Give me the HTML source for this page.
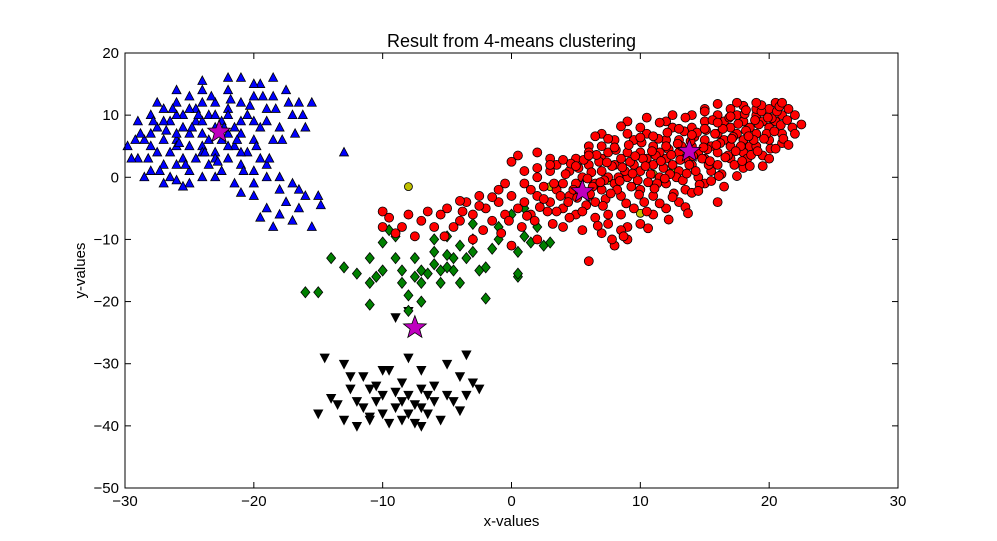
<!DOCTYPE html>
<html><head><meta charset="utf-8"><style>
html,body{margin:0;padding:0;background:#fff;}
svg{display:block;font-family:"Liberation Sans",sans-serif;}
</style></head><body>
<svg id="chart" width="997" height="541"></svg>
<script>
const xTicks=[-30,-20,-10,0,10,20,30];
const yTicks=[-50,-40,-30,-20,-10,0,10,20];
const redPts=[[-10,-5.5],[-10,-8],[-9,-9],[-8,-6],[-7.5,-9.5],[-7,-7],[-6,-8],[-5.5,-6],[-5,-5],[-4.5,-8],[-4,-7],[-3.5,-4],[-3,-6],[-2.5,-3],[-2,-5],[-1.5,-7],[-1,-4],[-1,-2],[-0.5,-6],[0,-3],[0,2.5],[0.5,-5],[1,-1],[1,-4],[1.5,-6],[2,0],[2,-3],[2.5,-1.5],[3,-4],[3,1],[3.5,-2],[3.5,2],[4,-1],[4,-5],[4.5,1],[4.5,-3],[5,3],[5,-1],[5,-6],[5.5,0],[6,-3],[6,2],[6,5],[6.5,-1],[6.5,-4],[7,1],[7,3],[7,-2],[7.5,0],[7.5,4],[7.5,-6],[8,2],[8,-1],[8,6],[8.5,3],[8.5,-3],[9,0],[9,4],[9,-8],[9.5,2],[9.5,6],[10,1],[10,4],[10,-2],[10.5,3],[10.5,7],[11,2],[11,5],[11,-3],[11.5,0],[11.5,4],[12,3],[12,6],[12,-1],[12.5,2],[12.5,8],[13,4],[13,1],[13,6],[13.5,-2],[13.5,3],[14,5],[14,2],[14,8],[14.5,0],[14.5,4],[15,6],[15,3],[15,9],[15.5,1],[15.5,5],[16,7],[16,4],[16,2],[16.5,6],[16.5,9],[17,5],[17,8],[17,3],[17.5,7],[17.5,10],[18,6],[18,9],[18,4],[18.5,8],[18.5,5],[19,7],[19,10],[19,5],[19.5,9],[20,8],[20,11],[20,6],[20.5,9],[21,10],[21,7],[22.5,8.5],[21.5,11],[20.5,12],[19,11],[17,11],[14,10],[12,9],[9,9],[7,7],[3,3],[2,4],[0.5,3.5],[-3,-10],[6,-13.5],[8,-11],[9,-10],[11,-6],[13,-4],[16,-4],[4,-8],[2,-10],[0,-11],
[4.2,0.5],[4.8,-2],[5.2,1.5],[5.8,-4.5],[6.2,0.8],[6.8,2.5],[7.2,-0.5],[7.8,1.8],[8.2,-2],[8.8,1],[9.2,2.5],[9.8,-0.5],[10.2,3],[10.8,0.5],[11.2,3.5],[11.8,1.5],[12.2,4.5],[12.8,0],[13.2,5],[13.8,2],[14.2,6.5],[14.8,3],[15.2,4.5],[15.8,7],[16.2,5.5],[16.8,3.5],[17.2,6.5],[17.8,5],[18.2,7.5],[18.8,6],[19.2,8.5],[19.8,7],[20.2,9.5],[3.8,-3],[5.3,-2.5],[6.3,-1.5],[7.3,-3.5],[8.3,0],[9.3,-1.5],[10.3,-4],[11.3,-1],[12.3,0.5],[13.3,-0.5],[14.3,1],[15.3,2],[16.3,0.5],[17.3,2],[18.3,3],[2.8,-5.5],[1.8,-7],[0.8,-8],[-0.8,-9],[-2.2,-8.5],[-3.8,-5.5],[-5.2,-9.5],[3.2,-7.5],[5.5,-8.5],[7,-9],[8.5,-6],[10,-7.5],[12,-5],[14,-2.5],[15,-1],[18,1.5],[19.5,3.5],[21,5.5],[20,3],[12.5,10],[10,8],[6,4],[15,11],[16,10],[18,11.5],
[4.4,-4],[4.6,2.2],[5.1,-3.3],[5.6,2.8],[5.9,-0.2],[6.1,-2.7],[6.6,3.6],[6.9,-0.8],[7.1,-4.6],[7.4,2.4],[7.7,-2.6],[8.1,4.4],[8.4,-0.6],[8.6,1.6],[8.9,-4.2],[9.1,5.2],[9.4,0.6],[9.6,3.4],[9.9,-2.8],[10.1,5.6],[10.4,1.8],[10.6,-0.8],[10.9,4.2],[11.1,-1.8],[11.4,6.2],[11.6,2.6],[11.9,-0.2],[12.1,7.2],[12.4,3.6],[12.6,-2.6],[12.9,5.4],[13.1,2.8],[13.4,7.4],[13.6,0.6],[13.9,5.8],[14.1,3.4],[14.4,7.2],[14.6,-1.2],[14.9,4.8],[15.1,7.6],[15.4,2.6],[15.6,9.2],[15.9,5.2],[16.1,0.2],[16.4,7.8],[16.6,3.2],[16.9,9.6],[17.1,6.2],[17.4,4.2],[17.6,8.6],[17.9,2.6],[18.1,10.2],[18.4,6.6],[18.6,3.6],[18.9,9.2],[19.1,4.2],[19.4,10.6],[19.6,6.2],[19.9,9.6],[20.1,4.6],[20.4,7.4],[20.6,10.6],[20.9,8.4],[21.1,6.2],[21.4,9.2],[21.8,8],[20.8,11.4],[19.4,11.6],[18.2,10.8],[17,9.8],[16,8.8],[15,7.8],[14,6.8],[13,7.8],[12,5],[11,6.6],[10,6.4],[9,7],[8,4.8],[7,5],[6,3.5],[5,1.8],[4,2.8],[3,2],[2,1.5],[1,1],[1.5,-2],[2.5,-3.5],[3.5,-5.5],[4.5,-6.5],[5.5,-5.5],[6.5,-6.5],[7.5,-7.5],[8.5,-8.5],[9.5,-5],[10.5,-5.5],[11.5,-4.2],[12.5,-3.2],[13.5,-4.8],[14.5,-2.2],[15.5,-0.6],[16.5,-1.5],[17.5,0.2],[18.5,1.8],[19.5,1.8],[20.5,4.6],[21.5,5.2],[22,7],[22,10],[21,12],[19,12],[17.5,12],[16,11.8],[15,10.6],[13.5,9.6],[11.5,8.8],[10.5,9.6],[8.5,8.2],[7.5,6.2],[6.5,6.6],[-0.5,-1],[-1.5,-3.2],[-2.5,-4.6],[-4,-3.8],[-6.5,-5.5],[-8.5,-8],[-9.5,-6.5],[-0.2,-7],[1.2,-6.2],[2.2,-4.8],[3.3,-1],[6.7,-7.8],[8.7,-9.5],[7.8,-10],[10.6,-8.2],[12.2,-6.8],[13.7,-5.8]];
const bluePts=[[-29,3],[-29,9],[-28.5,6],[-28,1],[-28,10],[-27.5,4],[-27.5,8],[-27,2],[-27,6],[-27,11],[-26.5,0],[-26.5,4],[-26.5,9],[-26,2],[-26,6],[-26,12],[-25.5,3],[-25.5,8],[-25.5,10],[-25,1],[-25,5],[-25,7],[-25,13],[-24.5,3],[-24.5,9],[-24.5,11],[-24,0],[-24,5],[-24,7],[-24,14],[-23.5,2],[-23.5,6],[-23.5,10],[-23,4],[-23,8],[-23,12],[-22.5,1],[-22.5,6],[-22.5,9],[-22,3],[-22,11],[-22,14],[-21.5,5],[-21.5,8],[-21.5,-1],[-21,2],[-21,7],[-21,12],[-21,16],[-20.5,4],[-20.5,10],[-20,1],[-20,6],[-20,13],[-20,-3],[-19.5,8],[-19.5,15],[-19.5,3],[-19,11],[-19,-5],[-19,0],[-18.5,16],[-18.5,6],[-18.5,13],[-18,-2],[-18,8],[-18,-6],[-17.5,14],[-17.5,-4],[-17,10],[-17,-1],[-16.5,12],[-16.5,-5],[-16,8],[-15.5,12],[-15,-3],[-13,4],[-18.5,-8],[-28,7],[-27,9],[-26,10],[-25,11],[-24,12],[-23,10],[-22,10],[-21,9],[-20,9],[-19,9],[-26,7],[-24,9],[-22,7],[-23,3],[-25,-1],[-27,-1],[-20,-1],[-19,2],[-22,5],[-21,4],[-24,4],[-26,5],[-28,5],[-29.5,3],
[-28.8,7],[-28.2,3],[-27.8,9],[-27.3,1],[-26.8,7.5],[-26.3,11],[-25.8,5.5],[-25.3,2],[-24.8,8],[-24.3,10],[-23.8,4],[-23.3,13],[-22.8,2.5],[-22.3,8],[-21.8,12.5],[-21.3,6],[-20.8,1],[-20.3,11.5],[-19.8,5],[-19.3,13],[-18.8,3],[-18.3,11],[-17.8,6],[-17.3,12],[-16.8,7],[-16.2,10],[-27.5,12],[-26,14],[-24,15.5],[-22,16],[-20,15],[-23,0],[-26,-0.5],[-28.5,0],[-25.5,-1.5],[-21,-2.5],[-18,0],[-16.5,-2],[-17,-7],[-19.5,-6.5],[-15.5,-8],[-16,-3],[-14.8,-4.5],[-29.2,6],[-29.8,5]];
const greenPts=[[-16,-18.5],[-15,-18.5],[-14,-13],[-13,-14.5],[-12,-15.5],[-11,-13],[-11,-17],[-11,-20.5],[-10.5,-16],[-10,-10.5],[-10,-15],[-9.5,-8.5],[-9,-9.5],[-9,-13],[-8.5,-17],[-8.5,-15],[-8,-19],[-8,-21.5],[-7.5,-13],[-7.5,-16],[-7,-15],[-7,-20],[-6.5,-15.5],[-6,-12],[-6,-14],[-5.5,-17],[-5.5,-15],[-5,-12.5],[-5,-9.5],[-4.5,-13],[-4.5,-15],[-4,-11],[-4,-17],[-3.5,-13],[-3,-10],[-3,-12],[-2.5,-15],[-2,-19.5],[-2,-14.5],[-1.5,-11.5],[-1,-10],[-1,-8],[0,-6],[0.5,-12],[1,-5],[1,-9.5],[1.5,-10.5],[2,-8],[2.5,-11],[3,-10.5],[0.5,-16],[0.5,-15.5],[-5,-14.5],[-3,-7.5],[-7,-17],[-6,-10]];
const blackPts=[[-15,-38],[-14,-35.5],[-13.5,-36.5],[-13,-39],[-12.5,-34],[-12,-40],[-11.5,-32],[-11.5,-37],[-11,-34],[-11,-38.5],[-10.5,-36],[-10.5,-33.5],[-10,-38],[-10,-35],[-9.5,-39.5],[-9.5,-31],[-9,-37],[-9,-34.5],[-8.5,-39],[-8.5,-36],[-8.5,-33],[-8,-38],[-8,-35],[-8,-29],[-7.5,-36.5],[-7.5,-39.5],[-7,-34],[-7,-37],[-7,-31],[-6.5,-35],[-6.5,-38],[-6,-33.5],[-6,-36],[-5.5,-39],[-5,-35],[-5,-30],[-4.5,-36],[-4,-32],[-4,-37.5],[-3.5,-28.5],[-3,-33],[-2.5,-34],[-12.5,-32],[-13,-30],[-14.5,-29],[-8,-21.5],[-9,-22.5],[-10,-31],[-12,-36],[-7,-40],[-11,-39],[-3.5,-35]];
const yellowPts=[[-8,-1.5],[10,-5.8],[11,0.5],[12.5,1],[5,-1],[7.5,-0.5],[3,-1.5]];
const centroids=[[-22.7,7.3],[5.5,-2.3],[13.8,4.2],[-7.5,-24.2]];

const L=125,R=898,T=53,B=488;
const sx=v=>L+(v+30)/60*(R-L);
const sy=v=>B-(v+50)/70*(B-T);
const svg=document.getElementById('chart');
const NS='http://www.w3.org/2000/svg';
function mk(tag,attrs,parent){const e=document.createElementNS(NS,tag);for(const k in attrs)e.setAttribute(k,attrs[k]);(parent||svg).appendChild(e);return e;}

const plot=mk('g',{});



function drawSeries(pts,name,fn){
  const g=mk('g',{},plot);
  
  
  pts.forEach(p=>{const e=fn(sx(p[0]),sy(p[1]),g);
    
    });
}
const st={stroke:'#000','stroke-width':0.8};
drawSeries(bluePts,'blue-triangle',(x,y,g)=>mk('polygon',Object.assign({points:`${x},${y-5} ${x-4.5},${y+3.5} ${x+4.5},${y+3.5}`,fill:'#0000ff'},st),g));
drawSeries(blackPts,'black-triangle',(x,y,g)=>mk('polygon',Object.assign({points:`${x},${y+5} ${x-4.5},${y-3.5} ${x+4.5},${y-3.5}`,fill:'#000'},st),g));
drawSeries(greenPts,'green-diamond',(x,y,g)=>mk('polygon',Object.assign({points:`${x},${y-5.5} ${x+4.5},${y} ${x},${y+5.5} ${x-4.5},${y}`,fill:'#008000'},st),g));
drawSeries(yellowPts,'yellow-circle',(x,y,g)=>mk('circle',Object.assign({cx:x,cy:y,r:4,fill:'#bfbf00'},st),g));
drawSeries(redPts,'red-circle',(x,y,g)=>mk('circle',Object.assign({cx:x,cy:y,r:4.5,fill:'#ff0000'},st),g));
function star(x,y,r){let s='';for(let i=0;i<10;i++){const a=-Math.PI/2+i*Math.PI/5;const rr=i%2?r*0.42:r;s+=`${x+rr*Math.cos(a)},${y+rr*Math.sin(a)} `;}return s;}
drawSeries(centroids,'centroid-star',(x,y,g)=>mk('polygon',Object.assign({points:star(x,y,12),fill:'#bf00bf'},st),g));

const frame=mk('rect',{x:L,y:T,width:R-L,height:B-T,fill:'none',stroke:'#000','stroke-width':1});



const xa=mk('g',{});


xTicks.forEach(v=>{const x=sx(v);
  mk('line',{x1:x,x2:x,y1:B,y2:B-6,stroke:'#000'},xa);
  mk('line',{x1:x,x2:x,y1:T,y2:T+6,stroke:'#000'},xa);
  const t=mk('text',{x:x,y:B+18,'text-anchor':'middle','font-size':15},xa);
  t.textContent=v<0?'\u2212'+(-v):String(v);
  
  });
const ya=mk('g',{});


yTicks.forEach(v=>{const y=sy(v);
  mk('line',{x1:L,x2:L+6,y1:y,y2:y,stroke:'#000'},ya);
  mk('line',{x1:R,x2:R-6,y1:y,y2:y,stroke:'#000'},ya);
  const t=mk('text',{x:L-6,y:y+5,'text-anchor':'end','font-size':15},ya);
  t.textContent=v<0?'\u2212'+(-v):String(v);
  
  });

const title=mk('text',{x:(L+R)/2,y:47,'text-anchor':'middle','font-size':18});
title.textContent='Result from 4-means clustering';


const xl=mk('text',{x:(L+R)/2,y:526,'text-anchor':'middle','font-size':15});
xl.textContent='x-values';


const yl=mk('text',{x:85,y:(T+B)/2,'text-anchor':'middle','font-size':15,transform:`rotate(-90 85 ${(T+B)/2})`});
yl.textContent='y-values';


</script>
</body></html>
